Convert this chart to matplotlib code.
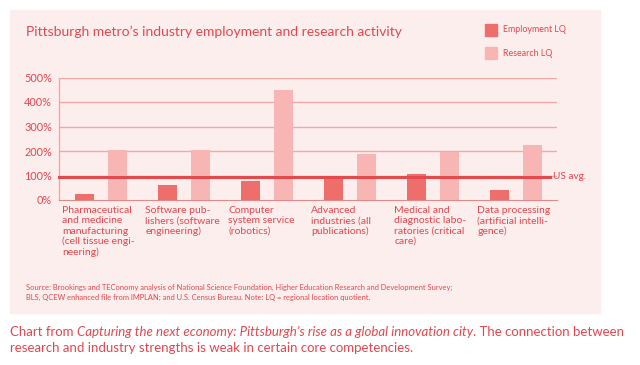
import numpy as np
import matplotlib.pyplot as plt
from matplotlib.patches import Rectangle

plt.rcParams['font.family'] = ['Lato', 'DejaVu Sans']

categories = [
    "Pharmaceutical\nand medicine\nmanufacturing\n(cell tissue engi-\nneering)",
    "Software pub-\nlishers (software\nengineering)",
    "Computer\nsystem service\n(robotics)",
    "Advanced\nindustries (all\npublications)",
    "Medical and\ndiagnostic labo-\nratories (critical\ncare)",
    "Data processing\n(artificial intelli-\ngence)",
]
employment_lq = [23, 63, 77, 97, 106, 41]
research_lq = [206, 205, 451, 188, 196, 226]
us_avg = 95
yticks = [0, 100, 200, 300, 400, 500]

red = '#E2474D'
emp_color = '#EE6E6C'
res_color = '#F7B6B3'
panel = '#FDEEEE'

W, H = 640, 365
fig = plt.figure(figsize=(6.4, 3.65), dpi=100)
fig.patch.set_facecolor('white')

# pink panel
fig.patches.append(Rectangle((10 / W, 1 - 313 / H), 590 / W, 303 / H,
                             transform=fig.transFigure, color=panel, zorder=-10))

ax = fig.add_axes([59 / W, 1 - 200 / H, 498 / W, 122.5 / H])
ax.set_facecolor('none')
x = np.arange(len(categories))
bw = 0.229
ax.bar(x + 0.307, employment_lq, width=bw, color=emp_color, zorder=3)
ax.bar(x + 0.705, research_lq, width=bw, color=res_color, zorder=3)
ax.set_xlim(0, 6)
ax.set_ylim(0, 500)
ax.set_yticks(yticks)
ax.set_yticklabels([f'{v}%' for v in yticks], color=red, fontsize=7.8)
ax.set_xticks([])
ax.tick_params(axis='y', length=0, pad=5)
for v in yticks[1:]:
    ax.axhline(v, color='#F3A8A5', lw=1, zorder=1)
for s in ['top', 'right']:
    ax.spines[s].set_visible(False)
ax.spines['left'].set_color('#F3A8A5')
ax.spines['bottom'].set_color('#DE8A88')
ax.spines['left'].set_linewidth(1)

# US average line
ax.plot([0, 5.92], [us_avg, us_avg], color='#E44A4C', lw=2.2, zorder=4, clip_on=False)
ax.text(5.95, us_avg, 'US avg.', color=red, fontsize=7.2, va='center', ha='left')

# category labels
for i, c in enumerate(categories):
    ax.text(i + 0.04, -6 / 122.5 * 500, c, color=red, fontsize=7.5, va='top', ha='left',
            linespacing=1.18, clip_on=False)

fig.text(26 / W, 1 - 32 / H, "Pittsburgh metro\u2019s industry employment and research activity",
         color=red, fontsize=10.0, va='center', ha='left')

# legend
for yy, col, lab in [(30, emp_color, 'Employment LQ'), (53, res_color, 'Research LQ')]:
    fig.patches.append(Rectangle((485 / W, 1 - (yy + 6) / H), 12 / W, 12 / H,
                                 transform=fig.transFigure, color=col))
    fig.text(503 / W, 1 - yy / H, lab, color=red, fontsize=6.4, va='center', ha='left')

fig.text(26 / W, 1 - 287 / H,
         "Source: Brookings and TEConomy analysis of National Science Foundation, Higher Education Research and Development Survey;",
         color=red, fontsize=5.4, va='center', ha='left')
fig.text(26 / W, 1 - 297 / H,
         "BLS, QCEW enhanced file from IMPLAN; and U.S. Census Bureau. Note: LQ = regional location quotient.",
         color=red, fontsize=5.4, va='center', ha='left')

# caption with italic title, built from pieces
fig.canvas.draw()
r = fig.canvas.get_renderer()
parts = [("Chart from ", 'normal'),
         ("Capturing the next economy: Pittsburgh\u2019s rise as a global innovation city", 'italic'),
         (". The connection between", 'normal')]
xpos = 10
for txt, st in parts:
    t = fig.text(xpos / W, 1 - 332 / H, txt, color=red, fontsize=9.5, style=st,
                 va='center', ha='left')
    xpos += t.get_window_extent(r).width
fig.text(10 / W, 1 - 348 / H,
         "research and industry strengths is weak in certain core competencies.",
         color=red, fontsize=9.5, va='center', ha='left')

fig.savefig('out.png', dpi=100)
